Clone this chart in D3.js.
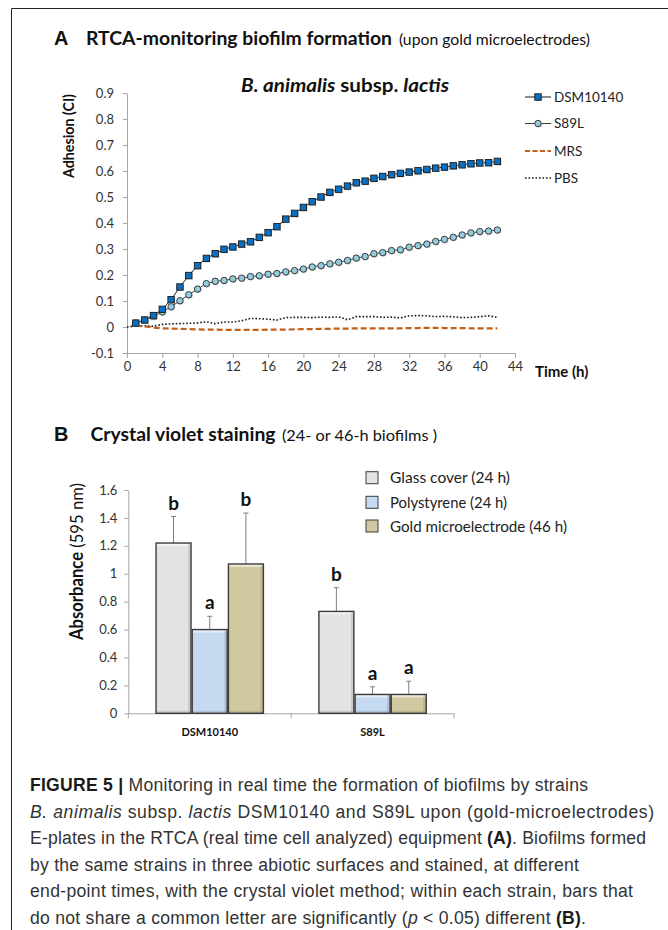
<!DOCTYPE html>
<html><head><meta charset="utf-8">
<script src="https://cdn.jsdelivr.net/npm/d3@7"></script>
<style>html,body{margin:0;padding:0;background:#fff;} svg{display:block;}</style>
</head><body>
<svg id="fig" width="668" height="930"></svg>
<script>
// ---------------- Panel A data (RTCA, Adhesion CI vs time) ----------------
const hours = [1,2,3,4,5,6,7,8,9,10,11,12,13,14,15,16,17,18,19,20,21,22,23,24,25,26,27,28,29,30,31,32,33,34,35,36,37,38,39,40,41,42];
const dsm10140 = [0.015,0.027,0.044,0.068,0.105,0.154,0.198,0.236,0.264,0.282,0.299,0.308,0.319,0.328,0.345,0.363,0.386,0.415,0.437,0.460,0.482,0.500,0.518,0.530,0.542,0.555,0.561,0.572,0.579,0.586,0.591,0.596,0.601,0.606,0.611,0.615,0.620,0.624,0.628,0.631,0.632,0.637];
const s89l = [0.015,0.026,0.041,0.058,0.078,0.101,0.124,0.146,0.167,0.176,0.179,0.185,0.188,0.194,0.197,0.203,0.206,0.212,0.217,0.223,0.231,0.236,0.243,0.249,0.256,0.265,0.271,0.282,0.286,0.294,0.297,0.307,0.313,0.319,0.329,0.337,0.345,0.354,0.362,0.367,0.369,0.373];
const mrs = [0.005,0.002,-0.002,-0.005,-0.006,-0.007,-0.008,-0.009,-0.010,-0.010,-0.011,-0.011,-0.011,-0.011,-0.011,-0.010,-0.010,-0.010,-0.009,-0.008,-0.008,-0.007,-0.007,-0.006,-0.006,-0.005,-0.005,-0.005,-0.005,-0.005,-0.005,-0.004,-0.004,-0.003,-0.003,-0.004,-0.004,-0.004,-0.005,-0.005,-0.005,-0.005];
const pbsHours = [0,1,2,3,4,5,6,7,8,9,10,11,12,13,14,15,16,17,18,19,20,21,22,23,24,25,26,27,28,29,30,31,32,33,34,35,36,37,38,39,40,41,42];
const pbs = [0,0.004,0.005,0.003,0.010,0.012,0.013,0.014,0.016,0.020,0.013,0.019,0.019,0.024,0.033,0.032,0.030,0.027,0.036,0.037,0.037,0.036,0.038,0.037,0.039,0.028,0.040,0.040,0.040,0.037,0.038,0.035,0.043,0.044,0.043,0.040,0.041,0.039,0.036,0.037,0.040,0.043,0.037];
const timeTicks = [0,4,8,12,16,20,24,28,32,36,40,44];
const adhesionTicks = [-0.1,0,0.1,0.2,0.3,0.4,0.5,0.6,0.7,0.8,0.9];
const seriesNamesA = ["DSM10140","S89L","MRS","PBS"];

// ---------------- Panel B data (crystal violet) ----------------
const strains = ["DSM10140","S89L"];
const surfaces = ["Glass cover (24 h)","Polystyrene (24 h)","Gold microelectrode (46 h)"];
const absMeanDSM = [1.22,0.60,1.07];
const absErrDSM = [0.19,0.095,0.365];
const absMeanS89L = [0.73,0.135,0.135];
const absErrS89L = [0.17,0.055,0.095];
const lettersDSM = ["b","a","b"];
const lettersS89L = ["b","a","a"];
const absTicks = [0,0.2,0.4,0.6,0.8,1,1.2,1.4,1.6];

// ---------------- helpers ----------------
const CF = "Lato, 'Open Sans', sans-serif";
const svg = d3.select("#fig");
svg.append("rect").attr("width",668).attr("height",930).attr("fill","#fff");
// squeeze text horizontally to a target width (mimics the narrower original face)
function squeeze(sel, w){
  sel.attr("textLength", w).attr("lengthAdjust","spacingAndGlyphs");
  return sel;
}

// frame
svg.append("path").attr("d","M11.5,930 V8.5 H668").attr("fill","none").attr("stroke","#222").attr("stroke-width",1);

// ================= PANEL A =================
svg.append("text").attr("x",54).attr("y",45).attr("font-family","'Liberation Sans', Arial, sans-serif")
  .attr("font-weight","bold").attr("font-size",20).attr("fill","#111").text("A");
squeeze(svg.append("text").attr("x",86).attr("y",45).attr("font-family",CF).attr("font-weight","bold")
  .attr("font-size",19).attr("fill","#111").text("RTCA-monitoring biofilm formation"),306);
squeeze(svg.append("text").attr("x",399).attr("y",45).attr("font-family",CF)
  .attr("font-size",15.5).attr("fill","#111").text("(upon gold microelectrodes)"),191);

const xA = d3.scaleLinear().domain([0,44]).range([127,515]);
const yA = d3.scaleLinear().domain([-0.1,0.9]).range([353,93]);
const gA = svg.append("g");
const axisCol = "#a6a6a6";
const xAxisA = gA.append("g").attr("transform",`translate(0,${yA(-0.1)})`)
  .call(d3.axisBottom(xA).tickValues(timeTicks).tickSize(5).tickSizeOuter(0).tickFormat(d3.format("d")));
const yAxisA = gA.append("g").attr("transform",`translate(${xA(0)},0)`)
  .call(d3.axisLeft(yA).tickValues(adhesionTicks).tickSize(4).tickSizeOuter(0).tickFormat(d=>String(+d.toFixed(1))));
[xAxisA,yAxisA].forEach(a=>{
  a.selectAll("path,line").attr("stroke",axisCol);
  a.selectAll("text").attr("font-family",CF).attr("font-size",13).attr("fill","#333");
});
xAxisA.selectAll("text").attr("dy","0.95em").attr("y",6);
yAxisA.selectAll("text").attr("x",-13);

squeeze(gA.append("text").attr("transform","translate(74,136) rotate(-90)").attr("text-anchor","middle")
  .attr("font-family",CF).attr("font-weight","bold").attr("font-size",14.5).attr("fill","#111").text("Adhesion (CI)"),84);
gA.append("text").attr("x",535).attr("y",377).attr("font-family",CF).attr("font-weight","bold")
  .attr("font-size",15).attr("fill","#111").text("Time (h)");

// subtitle
const sub = gA.append("text").attr("x",241).attr("y",92).attr("font-family",CF)
  .attr("font-weight","bold").attr("font-size",19).attr("fill","#111");
sub.append("tspan").attr("font-style","italic").text("B. animalis");
sub.append("tspan").text(" subsp. ");
sub.append("tspan").attr("font-style","italic").text("lactis");
squeeze(sub,208);

// lines
const lineA = d3.line().x(d=>xA(d[0])).y(d=>yA(d[1]));
gA.append("path").datum(pbsHours.map((h,i)=>[h,pbs[i]])).attr("d",lineA).attr("fill","none")
  .attr("stroke","#1a1a1a").attr("stroke-width",1.6).attr("stroke-dasharray","1.6,1.9");
gA.append("path").datum(hours.map((h,i)=>[h,mrs[i]])).attr("d",lineA).attr("fill","none")
  .attr("stroke","#c0601a").attr("stroke-width",2.2).attr("stroke-dasharray","6,3");
gA.append("path").datum(hours.map((h,i)=>[h,s89l[i]])).attr("d",lineA).attr("fill","none")
  .attr("stroke","#3a3a3a").attr("stroke-width",1);
gA.append("path").datum(hours.map((h,i)=>[h,dsm10140[i]])).attr("d",lineA).attr("fill","none")
  .attr("stroke","#1a1a1a").attr("stroke-width",1);

const SQ = 6.4;
function square(g,cx,cy){
  g.append("rect").attr("x",cx-SQ/2+0.8).attr("y",cy-SQ/2+0.8).attr("width",SQ).attr("height",SQ).attr("fill","#bdbdbd");
  g.append("rect").attr("x",cx-SQ/2).attr("y",cy-SQ/2).attr("width",SQ).attr("height",SQ)
    .attr("fill","#0a6fc0").attr("stroke","#1b1b1b").attr("stroke-width",0.9);
}
function circle(g,cx,cy){
  g.append("circle").attr("cx",cx+0.7).attr("cy",cy+0.7).attr("r",3.3).attr("fill","#c4c4c4");
  g.append("circle").attr("cx",cx).attr("cy",cy).attr("r",3.2)
    .attr("fill","#93cddd").attr("stroke","#2a2a2a").attr("stroke-width",0.9);
}
const mS = gA.append("g"), mD = gA.append("g");
hours.forEach((h,i)=>circle(mS,xA(h),yA(s89l[i])));
hours.forEach((h,i)=>square(mD,xA(h),yA(dsm10140[i])));

// legend A
const legA = gA.append("g");
const legRowsA = [97,123.5,151,178];
const legWA = [67,33,30,27];
seriesNamesA.forEach((n,i)=>{
  const y = legRowsA[i];
  const ln = legA.append("line").attr("x1",525).attr("x2",551).attr("y1",y).attr("y2",y);
  if (i===0){ ln.attr("stroke","#1a1a1a").attr("stroke-width",1); square(legA,538,y); }
  if (i===1){ ln.attr("stroke","#3a3a3a").attr("stroke-width",1); circle(legA,538,y); }
  if (i===2){ ln.attr("stroke","#c0601a").attr("stroke-width",2.2).attr("stroke-dasharray","5,2.5"); }
  if (i===3){ ln.attr("stroke","#1a1a1a").attr("stroke-width",1.6).attr("stroke-dasharray","1.6,1.9"); }
  legA.append("text").attr("x",554).attr("y",y).attr("dy","0.35em").attr("font-family",CF)
    .attr("font-size",13.5).attr("fill","#222").text(n);
});

// ================= PANEL B =================
svg.append("text").attr("x",54).attr("y",441).attr("font-family","'Liberation Sans', Arial, sans-serif")
  .attr("font-weight","bold").attr("font-size",20).attr("fill","#111").text("B");
squeeze(svg.append("text").attr("x",90.5).attr("y",441).attr("font-family",CF).attr("font-weight","bold")
  .attr("font-size",19).attr("fill","#111").text("Crystal violet staining"),185);
squeeze(svg.append("text").attr("x",282).attr("y",441).attr("font-family",CF)
  .attr("font-size",15.5).attr("fill","#111").text("(24- or 46-h biofilms )"),155);

const xB = d3.scaleBand().domain(strains).range([128.3,454]).padding(0);
const bw = xB.bandwidth();
const xBi = d3.scaleBand().domain(surfaces).range([bw/6, bw*5/6]).padding(0);
const yB = d3.scaleLinear().domain([0,1.6]).range([713.3,490]);
const gB = svg.append("g");
const xAxisB = gB.append("g").attr("transform",`translate(0,${yB(0)})`)
  .call(d3.axisBottom(xB).tickSize(0).tickSizeOuter(0).tickFormat(d=>d));
xAxisB.selectAll("text").attr("font-family",CF).attr("font-weight","bold").attr("font-size",11).attr("fill","#111").attr("y",15).attr("dy","0.71em");
xAxisB.selectAll("path").attr("stroke",axisCol);
gB.selectAll(".bt").data([128.3, xB("S89L"), 454]).enter().append("line")
  .attr("x1",d=>d).attr("x2",d=>d).attr("y1",yB(0)).attr("y2",yB(0)+5).attr("stroke",axisCol);
const yAxisB = gB.append("g").attr("transform",`translate(128.3,0)`)
  .call(d3.axisLeft(yB).tickValues(absTicks).tickSize(4).tickSizeOuter(0).tickFormat(d=>String(+d.toFixed(1))));
yAxisB.selectAll("path,line").attr("stroke",axisCol);
yAxisB.selectAll("text").attr("font-family",CF).attr("font-size",13).attr("fill","#333").attr("x",-11);

const yl = gB.append("text").attr("transform","translate(83,561.5) rotate(-90)").attr("text-anchor","middle")
  .attr("font-family",CF).attr("font-size",18).attr("fill","#111");
yl.append("tspan").attr("font-weight","bold").text("Absorbance");
yl.append("tspan").text(" (595 nm)");
squeeze(yl,157);

const fills = ["#e3e3e3","#c5d9f0","#d2c8a0"];
const barData = [];
strains.forEach((s,si)=>{
  const m = si===0?absMeanDSM:absMeanS89L, e = si===0?absErrDSM:absErrS89L, l = si===0?lettersDSM:lettersS89L;
  surfaces.forEach((f,fi)=>barData.push({s,f,fi,mean:m[fi],err:e[fi],letter:l[fi]}));
});
const bars = gB.selectAll(".bar").data(barData).enter().append("g");
bars.each(function(d){
  const g = d3.select(this);
  const x0 = xB(d.s)+xBi(d.f)+0.6, w = xBi.bandwidth()-1.2;
  const y0 = yB(d.mean), h = yB(0)-yB(d.mean);
  const cx = x0+w/2, ye = yB(d.mean+d.err);
  g.append("line").attr("x1",cx).attr("x2",cx).attr("y1",y0).attr("y2",ye).attr("stroke","#7f7f7f").attr("stroke-width",1);
  g.append("line").attr("x1",cx-2.5).attr("x2",cx+2.5).attr("y1",ye).attr("y2",ye).attr("stroke","#7f7f7f").attr("stroke-width",1);
  g.append("rect").attr("x",x0).attr("y",y0).attr("width",w).attr("height",h).attr("fill",fills[d.fi]);
  g.append("rect").attr("x",x0).attr("y",y0).attr("width",w).attr("height",Math.min(3,h)).attr("fill","#fff").attr("opacity",0.55);
  g.append("rect").attr("x",x0+w-3).attr("y",y0).attr("width",3).attr("height",h).attr("fill","#000").attr("opacity",0.1);
  g.append("rect").attr("x",x0).attr("y",y0+h-2.5).attr("width",w).attr("height",2.5).attr("fill","#000").attr("opacity",0.1);
  g.append("rect").attr("x",x0).attr("y",y0).attr("width",w).attr("height",h).attr("fill","none")
    .attr("stroke","#3c3c3c").attr("stroke-width",1.4);
  g.append("text").attr("x",cx).attr("y",ye-7).attr("text-anchor","middle").attr("font-family",CF)
    .attr("font-weight","bold").attr("font-size",19).attr("fill","#111").text(d.letter);
});

// legend B
const legB = gB.append("g");
const legRowsB = [477.7,502.3,526];
const legWB = [120,117,177];
surfaces.forEach((s,i)=>{
  const y = legRowsB[i];
  legB.append("rect").attr("x",366).attr("y",y-6).attr("width",12).attr("height",12)
    .attr("fill",fills[i]).attr("stroke","#3c3c3c").attr("stroke-width",1);
  squeeze(legB.append("text").attr("x",390).attr("y",y).attr("dy","0.35em").attr("font-family",CF)
    .attr("font-size",16).attr("fill","#222").text(s), legWB[i]);
});

// ================= CAPTION =================
const CAPF = "'Liberation Sans', Arial, Helvetica, sans-serif";
const capLines = [
  [["FIGURE 5 |","b"],[" Monitoring in real time the formation of biofilms by strains",""]],
  [["B. animalis","i"],[" subsp. ",""],["lactis","i"],[" DSM10140 and S89L upon (gold-microelectrodes)",""]],
  [["E-plates in the RTCA (real time cell analyzed) equipment ",""],["(A)","b"],[". Biofilms formed",""]],
  [["by the same strains in three abiotic surfaces and stained, at different",""]],
  [["end-point times, with the crystal violet method; within each strain, bars that",""]],
  [["do not share a common letter are significantly (",""],["p","i"],[" < 0.05) different ",""],["(B)","b"],[".",""]]
];
const capWidths = [558,624,616,549,603,556];
capLines.forEach((segs,i)=>{
  const t = svg.append("text").attr("x",30).attr("y",791+26.5*i).attr("font-family",CAPF)
    .attr("font-size",17.6).attr("fill","#333");
  segs.forEach(([s,st])=>{
    const ts = t.append("tspan").text(s);
    if (st==="b") ts.attr("font-weight","bold").attr("fill","#1a1a1a");
    if (st==="i") ts.attr("font-style","italic");
  });
  t.attr("textLength",capWidths[i]).attr("lengthAdjust","spacing");
});
</script>
</body></html>
